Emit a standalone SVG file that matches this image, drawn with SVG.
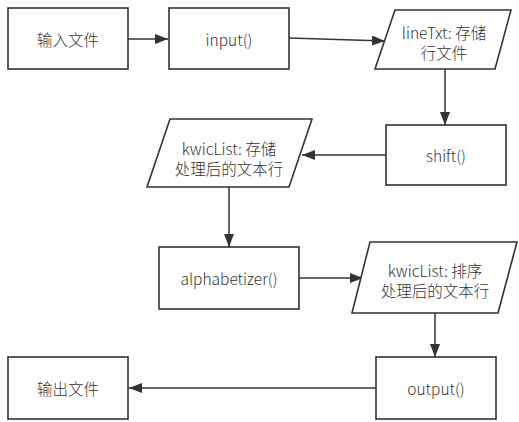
<svg xmlns="http://www.w3.org/2000/svg" width="519" height="422" viewBox="0 0 519 422">
<style>
.n{fill:#fff;stroke:#333;stroke-width:1.6}
.t{font-family:"Noto Sans CJK SC","Noto Sans",sans-serif;font-size:15.5px;font-weight:300;fill:#333;text-anchor:middle;dominant-baseline:central}
.c{fill:none;stroke:#333;stroke-width:1.5}
</style>
<defs>
<marker id="ah" markerUnits="userSpaceOnUse" markerWidth="14" markerHeight="12" refX="13" refY="5" orient="auto">
<path d="M0,0 L13,5 L0,10 Z" fill="#333"/>
</marker>
</defs>
<rect width="519" height="422" fill="#fff"/>
<g id="connectors">
<line class="c" x1="128" y1="39" x2="168" y2="39" marker-end="url(#ah)"/>
<line class="c" x1="289" y1="38" x2="385" y2="41" marker-end="url(#ah)"/>
<line class="c" x1="445" y1="69" x2="445" y2="125" marker-end="url(#ah)"/>
<line class="c" x1="386" y1="155" x2="302" y2="155" marker-end="url(#ah)"/>
<line class="c" x1="229" y1="187" x2="229" y2="247" marker-end="url(#ah)"/>
<line class="c" x1="299" y1="278" x2="363" y2="278" marker-end="url(#ah)"/>
<line class="c" x1="435" y1="313" x2="435" y2="357" marker-end="url(#ah)"/>
<line class="c" x1="376" y1="388" x2="129" y2="388" marker-end="url(#ah)"/>
</g>
<g id="n1"><rect class="n" x="8" y="8" width="120" height="61"/><text class="t" x="68" y="39">输入文件</text></g>
<g id="n2"><rect class="n" x="169" y="8" width="120" height="61"/><text class="t" x="229" y="39">input()</text></g>
<g id="n3"><polygon class="n" points="395,10 511,10 495,69 375,69"/><text class="t" x="444" y="32">lineTxt: 存储</text><text class="t" x="444" y="52">行文件</text></g>
<g id="n4"><rect class="n" x="386" y="125" width="120" height="60"/><text class="t" x="446" y="155">shift()</text></g>
<g id="n5"><polygon class="n" points="170,119 312,119 289,187 147,187"/><text class="t" x="229" y="148">kwicList: 存储</text><text class="t" x="229" y="168">处理后的文本行</text></g>
<g id="n6"><rect class="n" x="159" y="247" width="140" height="62"/><text class="t" x="229" y="278">alphabetizer()</text></g>
<g id="n7"><polygon class="n" points="370,242 517,242 498,313 352,313"/><text class="t" x="435" y="270">kwicList: 排序</text><text class="t" x="435" y="290">处理后的文本行</text></g>
<g id="n8"><rect class="n" x="8" y="357" width="120" height="62"/><text class="t" x="68" y="388">输出文件</text></g>
<g id="n9"><rect class="n" x="376" y="357" width="120" height="62"/><text class="t" x="436" y="388">output()</text></g>
</svg>
